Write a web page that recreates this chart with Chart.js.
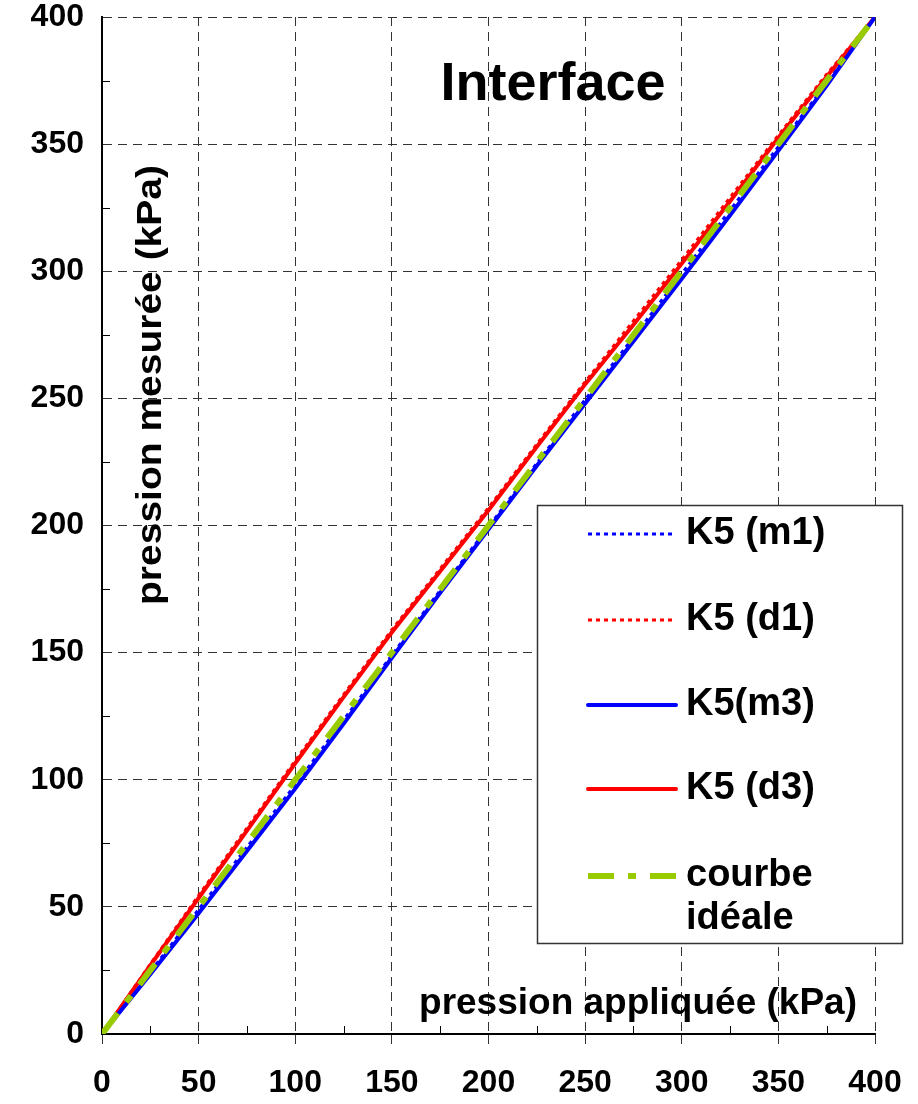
<!DOCTYPE html>
<html>
<head>
<meta charset="utf-8">
<script src="https://cdn.jsdelivr.net/npm/chart.js@4"></script>
<style>
  html, body { margin: 0; padding: 0; background: #fff; }
  #wrap { width: 918px; height: 1104px; }
</style>
</head>
<body>
<div id="wrap"><canvas id="grafico" width="918" height="1104"></canvas></div>
<script>
// pression appliquée (kPa)
const pressionAppliquee = [0, 25, 50, 75, 100, 125, 150, 175, 200, 225, 250, 275, 300, 325, 350, 375, 400];

// pression mesurée (kPa) pour chaque capteur
const k5m1 = [0, 24.5, 49, 73.5, 98, 123.5, 149, 174.5, 199.5, 224.5, 249.5, 274, 299, 324, 349, 374, 400];
const k5d1 = [0, 27.5, 54.5, 81, 107.5, 133.5, 159, 183, 207, 232, 256.5, 280.5, 304.5, 329, 353.5, 377.5, 400];
const k5m3 = [0, 23.5, 47.5, 72, 96.5, 122, 148, 173.5, 198.5, 223.5, 248, 272.5, 297, 322, 347.5, 373, 400];
const k5d3 = [0, 27, 53.5, 80, 106.5, 132.5, 158, 182, 206, 231, 255.5, 279, 303, 327.5, 352.5, 376.5, 400];
const courbeIdeale = [0, 25, 50, 75, 100, 125, 150, 175, 200, 225, 250, 275, 300, 325, 350, 375, 400];

const ticksX = [0, 50, 100, 150, 200, 250, 300, 350, 400];
const ticksY = [0, 50, 100, 150, 200, 250, 300, 350, 400];
const minorTicks = [25, 75, 125, 175, 225, 275, 325, 375];

const legendLabels = ['K5 (m1)', 'K5 (d1)', 'K5(m3)', 'K5 (d3)', ['courbe', 'idéale']];

const FONT = "'Liberation Sans', Arial, sans-serif";

function pontos(ys) {
    return pressionAppliquee.map((x, i) => ({ x: x, y: ys[i] }));
}

// textes et légende dessinés sur le graphique
const decor = {
    id: 'decor',
    afterDraw(chart) {
        const ctx = chart.ctx;
        const area = chart.chartArea;
        const sx = chart.scales.x;
        const sy = chart.scales.y;

        // petites graduations intérieures
        ctx.save();
        ctx.strokeStyle = '#000';
        ctx.lineWidth = 1;
        minorTicks.forEach(v => {
            const px = Math.round(sx.getPixelForValue(v)) + 0.5;
            ctx.beginPath();
            ctx.moveTo(px, area.bottom);
            ctx.lineTo(px, area.bottom - 8);
            ctx.stroke();
            const py = Math.round(sy.getPixelForValue(v)) + 0.5;
            ctx.beginPath();
            ctx.moveTo(area.left, py);
            ctx.lineTo(area.left + 8, py);
            ctx.stroke();
        });
        ctx.restore();

        // titre
        ctx.save();
        ctx.fillStyle = '#000';
        ctx.font = 'bold 54px ' + FONT;
        ctx.textAlign = 'center';
        ctx.textBaseline = 'alphabetic';
        ctx.fillText('Interface', 553, 100);

        // titre de l'axe x
        ctx.font = 'bold 37px ' + FONT;
        ctx.fillText('pression appliquée (kPa)', 638, 1014);

        // titre de l'axe y
        ctx.translate(151, 385);
        ctx.rotate(-Math.PI / 2);
        ctx.font = 'bold 35px ' + FONT;
        ctx.textBaseline = 'middle';
        const w = ctx.measureText('pression mesurée (kPa)').width;
        ctx.scale(440 / w, 1);
        ctx.fillText('pression mesurée (kPa)', 0, 0);
        ctx.restore();

        // légende
        ctx.save();
        ctx.fillStyle = '#fff';
        ctx.fillRect(537, 505, 365, 438);
        ctx.strokeStyle = '#333';
        ctx.lineWidth = 1.5;
        ctx.strokeRect(537.5, 505.5, 365, 438);
        const rows = [534, 620, 705, 789, 876];
        chart.data.datasets.forEach((ds, i) => {
            const y = rows[i];
            ctx.save();
            ctx.strokeStyle = ds.borderColor;
            ctx.lineWidth = ds.borderWidth;
            ctx.setLineDash(ds.borderDash || []);
            ctx.lineCap = ds.borderDash ? 'butt' : 'round';
            ctx.beginPath();
            ctx.moveTo(588, y);
            ctx.lineTo(676, y);
            ctx.stroke();
            ctx.restore();
            ctx.fillStyle = '#000';
            ctx.font = 'bold 38px ' + FONT;
            ctx.textAlign = 'left';
            ctx.textBaseline = 'middle';
            const lbl = legendLabels[i];
            if (Array.isArray(lbl)) {
                lbl.forEach((t, j) => ctx.fillText(t, 686, y + j * 43));
            } else {
                ctx.fillText(lbl, 686, y);
            }
        });
        ctx.restore();
    }
};

new Chart(document.getElementById('grafico'), {
    type: 'scatter',
    data: {
        datasets: [
            { label: 'K5 (m1)', data: pontos(k5m1), borderColor: '#0000ff', borderWidth: 3, borderDash: [4, 4], order: 2 },
            { label: 'K5 (d1)', data: pontos(k5d1), borderColor: '#ff0000', borderWidth: 3, borderDash: [4, 4], order: 2 },
            { label: 'K5(m3)', data: pontos(k5m3), borderColor: '#0000ff', borderWidth: 4, order: 1 },
            { label: 'K5 (d3)', data: pontos(k5d3), borderColor: '#ff0000', borderWidth: 4, order: 1 },
            { label: 'courbe idéale', data: pontos(courbeIdeale), borderColor: '#99cc00', borderWidth: 6, borderDash: [26, 14, 8, 14], order: 0 }
        ].map(ds => Object.assign(ds, { showLine: true, pointRadius: 0, fill: false, tension: 0 }))
    },
    options: {
        responsive: false,
        animation: false,
        layout: { padding: { top: 17, right: 43, left: 0, bottom: 0 } },
        plugins: {
            legend: { display: false },
            tooltip: { enabled: false }
        },
        scales: {
            x: {
                type: 'linear',
                min: 0,
                max: 400,
                afterBuildTicks: s => { s.ticks = ticksX.map(v => ({ value: v })); },
                afterFit: s => { s.height = 70; s.paddingLeft = 0; s.paddingRight = 0; },
                ticks: {
                    color: '#000',
                    font: { family: FONT, size: 32, weight: 'bold' },
                    padding: 20,
                    maxRotation: 0
                },
                grid: { color: '#333', lineWidth: 1, tickLength: 10, tickColor: '#333' },
                border: { color: '#000', width: 2, dash: [9, 6] }
            },
            y: {
                type: 'linear',
                min: 0,
                max: 400,
                afterBuildTicks: s => { s.ticks = ticksY.map(v => ({ value: v })); },
                afterFit: s => { s.width = 102; s.paddingTop = 0; s.paddingBottom = 0; },
                ticks: {
                    color: '#000',
                    font: { family: FONT, size: 32, weight: 'bold' },
                    padding: 18
                },
                grid: { color: '#333', lineWidth: 1, drawTicks: false },
                border: { color: '#000', width: 2, dash: [9, 6] }
            }
        }
    },
    plugins: [decor]
});
</script>
</body>
</html>
